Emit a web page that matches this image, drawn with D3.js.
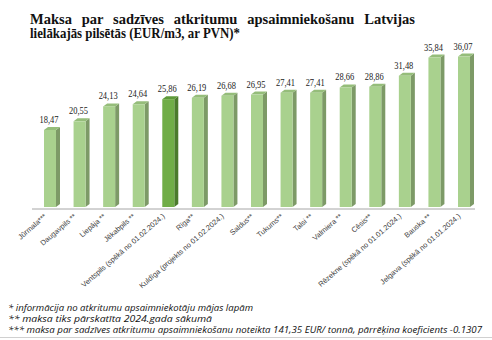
<!DOCTYPE html>
<html><head><meta charset="utf-8">
<script src="https://cdn.jsdelivr.net/npm/d3@7"></script>
<style>html,body{margin:0;padding:0;background:#fff}</style>
</head><body>
<svg id="c" width="492" height="340"></svg>
<script>
const categories = ["Jūrmala***","Daugavpils **","Liepāja **","Jēkabpils **","Ventspils (spēkā no 01.02.2024.)","Rīga**","Kuldīga (projekts no 01.02.2024.)","Saldus**","Tukums**","Talsi **","Valmiera **","Cēsis**","Rēzekne (spēkā no 01.01.2024.)","Bauska **","Jelgava (spēkā no 01.01.2024.)"];
const values = [18.47,20.55,24.13,24.64,25.86,26.19,26.68,26.95,27.41,27.41,28.66,28.86,31.48,35.84,36.07];
const highlighted = ["Ventspils (spēkā no 01.02.2024.)"];
const titleLines = ["Maksa par sadzīves atkritumu apsaimniekošanu Latvijas","lielākajās pilsētās (EUR/m3, ar PVN)*"];
const footnotes = ["* informācija no atkritumu apsaimniekotāju mājas lapām","** maksa tiks pārskatīta 2024.gada sākumā","*** maksa par sadzīves atkritumu apsaimniekošanu noteikta  141,35 EUR/ tonnā, pārrēķina koeficients -0.1307"];

const svg = d3.select("#c");
const x = d3.scalePoint().domain(categories).range([50, 464]);
const y = d3.scaleLinear().domain([0, 40]).range([207, 40.2]);
const fw = 12, dx = 4, dy = 3;
const fmt = v => d3.format(".2f")(v).replace(".", ",");

// title
const targets = [385, 210];
const tt = svg.append("g").selectAll("text").data(titleLines).join("text")
  .attr("x", 30).attr("y", (d,i) => 23.5 + i*14.8)
  .attr("font-family", "Liberation Serif, Times New Roman, serif")
  .attr("font-weight", "bold").attr("font-size", 14.5).attr("fill", "#111")
  .text(d => d);
tt.each(function(d,i){
  const n = this.getComputedTextLength();
  const sp = d.split(" ").length - 1;
  const ws = (targets[i] - n) / sp;
  if (ws >= 0) d3.select(this).attr("word-spacing", ws);
  else d3.select(this).attr("textLength", targets[i]).attr("lengthAdjust", "spacingAndGlyphs");
});

// axis line
svg.append("line").attr("x1", 32).attr("x2", 475).attr("y1", 209).attr("y2", 209)
  .attr("stroke", "#a6a6a6").attr("stroke-width", 1);

const data = categories.map((c,i) => ({c, v: values[i], hi: highlighted.includes(c)}));
const g = svg.append("g").selectAll("g").data(data).join("g");
// side face
g.append("path").attr("d", d => {
  const x0 = x(d.c) - fw/2, yt = y(d.v), yb = y(0);
  return `M${x0+fw},${yt}L${x0+fw+dx},${yt-dy}L${x0+fw+dx},${yb-dy}L${x0+fw},${yb}Z`;
}).attr("fill", d => d.hi ? "#4b7a2c" : "#7d9a67");
// top face
g.append("path").attr("d", d => {
  const x0 = x(d.c) - fw/2, yt = y(d.v);
  return `M${x0},${yt}L${x0+fw},${yt}L${x0+fw+dx},${yt-dy}L${x0+dx},${yt-dy}Z`;
}).attr("fill", d => d.hi ? "#5e9a3a" : "#95bd7a");
// front face
g.append("rect").attr("x", d => x(d.c) - fw/2).attr("y", d => y(d.v))
  .attr("width", fw).attr("height", d => y(0) - y(d.v))
  .attr("fill", d => d.hi ? "#70ad47" : "#a9d18e");
// value labels
g.append("text").attr("x", d => x(d.c) - 1).attr("y", d => y(d.v) - 7)
  .attr("text-anchor", "middle")
  .attr("font-family", "Liberation Serif, Times New Roman, serif")
  .attr("font-size", 10.5).attr("fill", "#222")
  .attr("textLength", 19).attr("lengthAdjust", "spacingAndGlyphs")
  .text(d => fmt(d.v));
// category labels
g.append("text")
  .attr("transform", d => `translate(${x(d.c) - 3},${217}) rotate(-41)`)
  .attr("text-anchor", "end")
  .attr("font-family", "Liberation Sans, Arial, sans-serif")
  .attr("font-size", 7.4).attr("fill", "#404040")
  .text(d => d.c);

// footnotes
svg.append("g").selectAll("text").data(footnotes).join("text")
  .attr("x", 8).attr("y", (d,i) => 311 + i*11)
  .attr("font-family", "Open Sans, Liberation Sans, sans-serif")
  .attr("font-style", "italic").attr("font-size", 8.6).attr("fill", "#111")
  .attr("textLength", (d,i) => [245, 204, 474][i]).attr("lengthAdjust", "spacingAndGlyphs")
  .text(d => d);

svg.append("line").attr("x1", 0).attr("x2", 492).attr("y1", 337.5).attr("y2", 337.5)
  .attr("stroke", "#d0d0d0").attr("stroke-width", 1);
</script>
</body></html>
